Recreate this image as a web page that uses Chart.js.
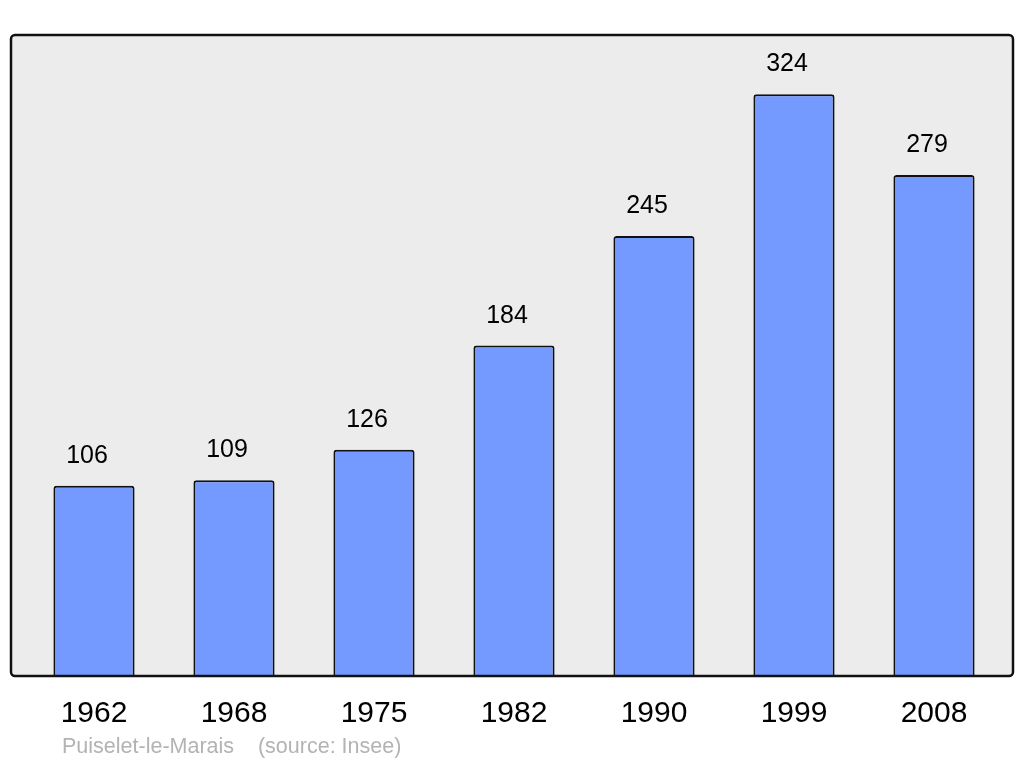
<!DOCTYPE html>
<html lang="fr">
<head>
    <meta charset="UTF-8">
    <title>Puiselet-le-Marais</title>
    <script src="https://cdn.jsdelivr.net/npm/chart.js"></script>
    <style>
        body {
            margin: 0;
            padding: 0;
            background-color: #fff;
        }
        .wrap {
            width: 1024px;
            height: 765px;
        }
    </style>
</head>
<body>
    <div class="wrap">
        <canvas id="popChart" width="1024" height="765"></canvas>
    </div>

    <script>
        // population by census year
        const years = ['1962', '1968', '1975', '1982', '1990', '1999', '2008'];
        const population = [106, 109, 126, 184, 245, 324, 279];
        const footerText = 'Puiselet-le-Marais    (source: Insee)';

        // grey frame behind the bars, border drawn on top
        const framePlugin = {
            id: 'frame',
            beforeDatasetsDraw(chart) {
                const a = chart.chartArea;
                const ctx = chart.ctx;
                ctx.save();
                ctx.beginPath();
                ctx.roundRect(a.left - 13, a.top, a.right - a.left + 22, a.bottom - a.top, 4);
                ctx.fillStyle = '#ececec';
                ctx.fill();
                ctx.restore();
            },
            afterDatasetsDraw(chart) {
                const a = chart.chartArea;
                const ctx = chart.ctx;
                ctx.save();
                ctx.beginPath();
                ctx.roundRect(a.left - 13, a.top, a.right - a.left + 22, a.bottom - a.top, 4);
                ctx.lineWidth = 2.5;
                ctx.strokeStyle = '#111';
                ctx.stroke();

                // value labels above the bars
                const meta = chart.getDatasetMeta(0);
                ctx.font = '25px "Liberation Sans", Arial, sans-serif';
                ctx.fillStyle = '#000';
                ctx.textAlign = 'center';
                ctx.textBaseline = 'middle';
                meta.data.forEach((bar, i) => {
                    ctx.fillText(population[i], bar.x - 7, bar.y - 30);
                });

                // footer
                ctx.font = '21.5px "Liberation Sans", Arial, sans-serif';
                ctx.fillStyle = '#b3b3b3';
                ctx.textAlign = 'left';
                ctx.fillText(footerText, 62, 747);
                ctx.restore();
            }
        };

        new Chart(document.getElementById('popChart'), {
            type: 'bar',
            data: {
                labels: years,
                datasets: [{
                    data: population,
                    backgroundColor: '#7499ff',
                    borderColor: '#111',
                    borderWidth: 2,
                    borderSkipped: 'bottom',
                    borderRadius: { topLeft: 3, topRight: 3 },
                    barPercentage: 0.58,
                    categoryPercentage: 1
                }]
            },
            options: {
                responsive: false,
                animation: false,
                layout: {
                    padding: { left: 24, right: 20, top: 35, bottom: 13 }
                },
                plugins: {
                    legend: { display: false },
                    tooltip: { enabled: false }
                },
                scales: {
                    x: {
                        grid: { display: false, drawTicks: false },
                        border: { display: false },
                        ticks: {
                            color: '#000',
                            padding: 20,
                            font: { family: '"Liberation Sans", Arial, sans-serif', size: 30 }
                        }
                    },
                    y: {
                        display: false,
                        min: 0,
                        max: 357
                    }
                }
            },
            plugins: [framePlugin]
        });
    </script>
</body>
</html>
